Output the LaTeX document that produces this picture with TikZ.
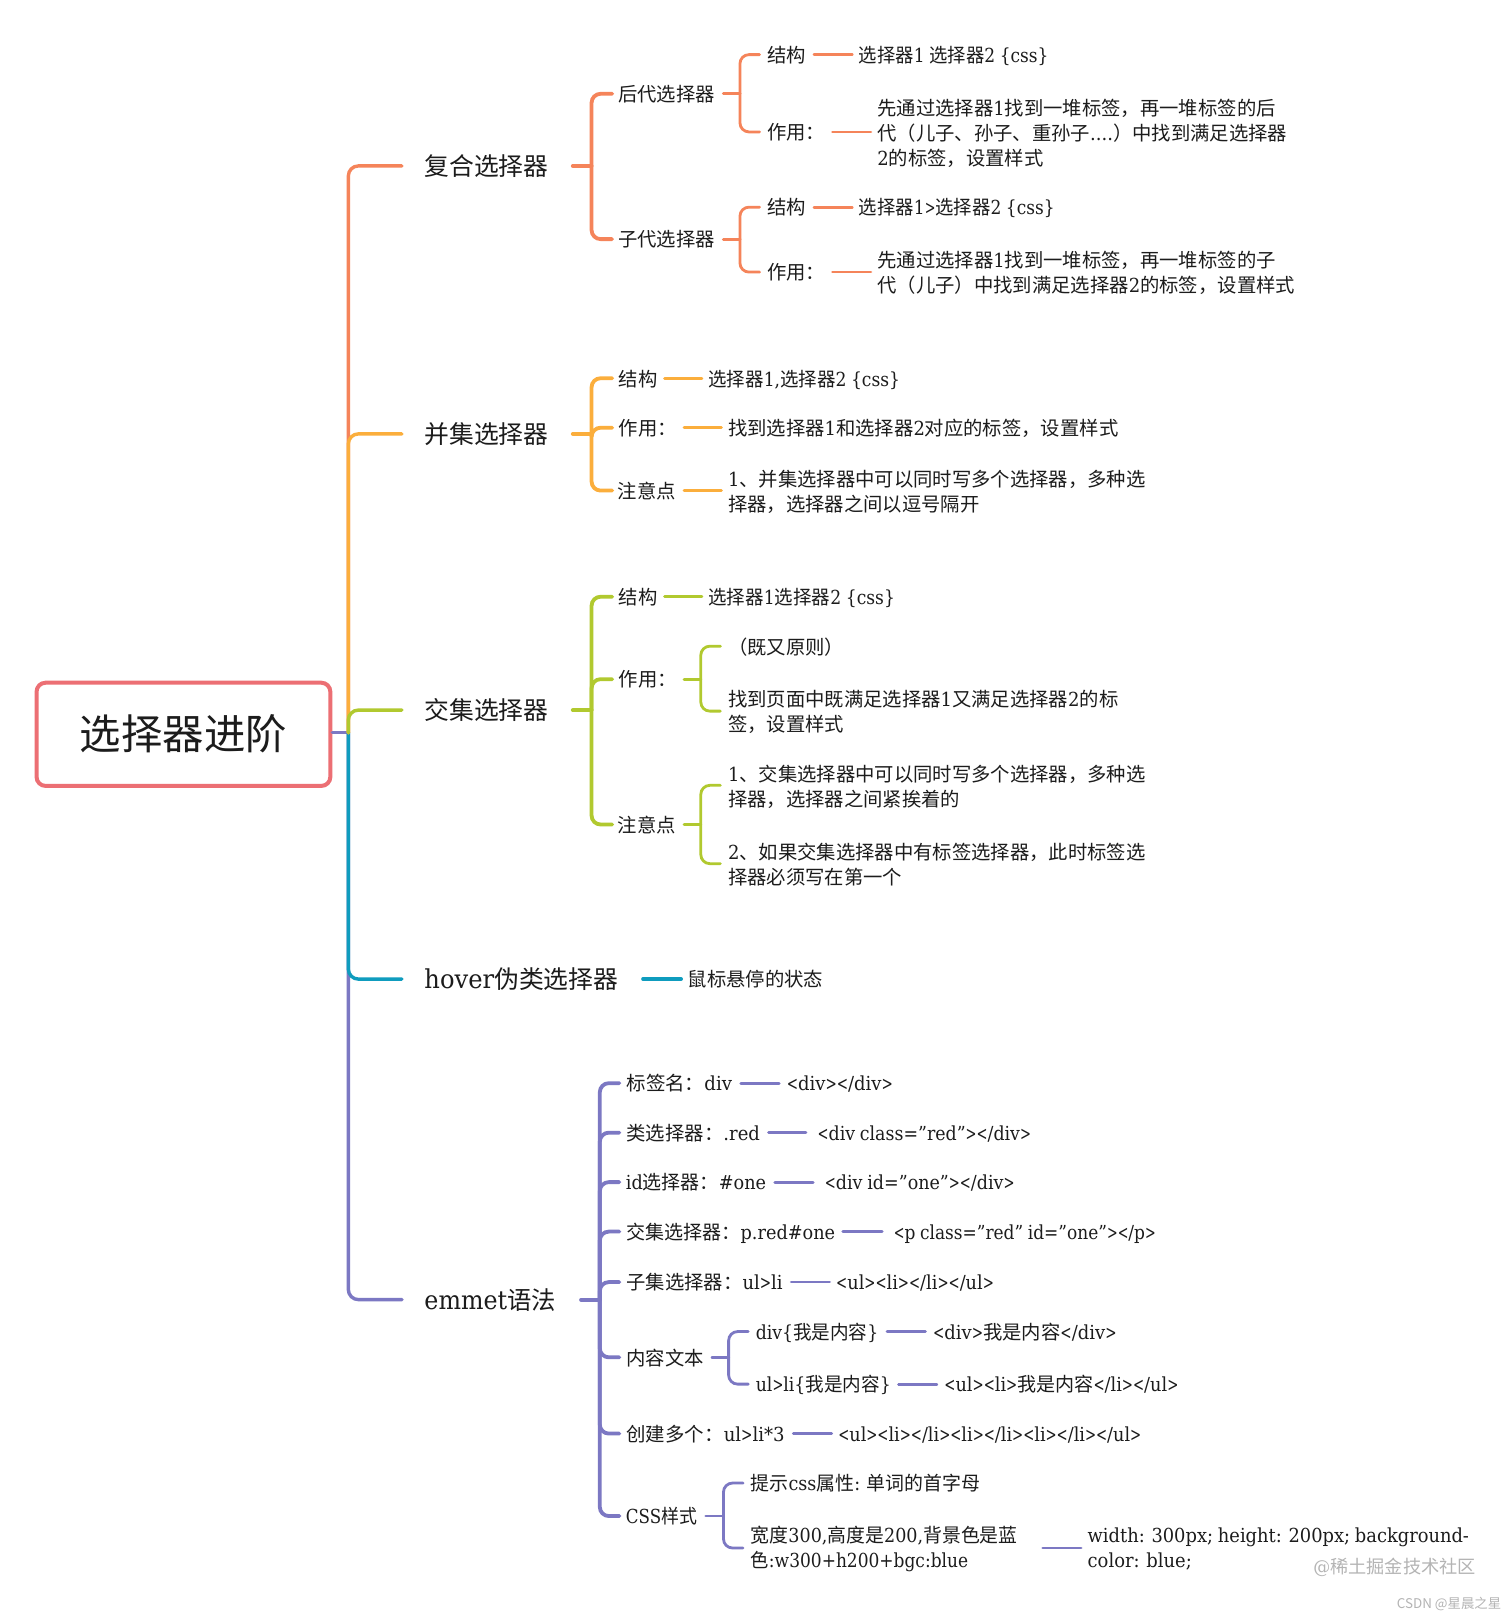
\documentclass[tikz,border=0pt]{standalone}
\usepackage{fontspec}
\setmainfont[FakeStretch=0.93,WordSpace=0.85]{DejaVu Serif}
\newfontfamily\cjk{Noto Sans CJK SC}
\newcommand\zh[1]{{\cjk #1}}
\newcommand\LTs{\scalebox{0.75}[1]{<}}
\newcommand\GTs{\scalebox{0.75}[1]{>}}
\newcommand\fit[2]{\pgfmathsetlengthmacro\fw{#1*0.51534pt}\resizebox{\fw}{\height}{#2}}
\definecolor{cO}{HTML}{F5845A}
\definecolor{cY}{HTML}{FBAE3C}
\definecolor{cG}{HTML}{B1C92F}
\definecolor{cT}{HTML}{0F9CBE}
\definecolor{cP}{HTML}{7C78C3}
\definecolor{cR}{HTML}{EC6F74}
\definecolor{wm}{HTML}{B4B4B4}
\definecolor{ink}{HTML}{1C1C1C}
\tikzset{
  bodytxt/.style={inner sep=0pt,anchor=west,text height=8.6pt,text depth=0.8pt,font=\fontsize{9.67}{12.5}\selectfont,text=ink},
  bigtxt/.style={inner sep=0pt,anchor=west,text height=10.4pt,text depth=1pt,font=\fontsize{12.4}{15}\selectfont,text=ink},
  multitxt/.style={inner sep=0pt,anchor=west,font=\fontsize{9.67}{12.5}\selectfont,text=ink},
  lvA/.style={line width=1.7pt,line cap=round,rounded corners=5pt},
  lvB/.style={line width=1.9pt,line cap=round,rounded corners=4.5pt},
  lvC/.style={line width=1.4pt,line cap=round,rounded corners=4.5pt},
  gap/.style={shorten >=#1*0.51534pt},
  rootbox/.style={draw=cR,line width=2pt,rounded corners=4.5pt,minimum width=146.9pt,minimum height=51.6pt,inner sep=0pt,font=\fontsize{20.7}{24}\selectfont,text=ink},
  wmark/.style={inner sep=0pt,anchor=west,text=wm},
}
% single line node: [style]{name}{x left}{y}{x right}{content}
\newcommand\nd[6][bodytxt]{%
  \pgfmathsetlengthmacro\wid{(#5-#3)*0.51534pt}%
  \node[#1] (#2) at (#3,#4) {\makebox[\wid][l]{#6}};}
% several lines
\newcommand\ndm[5]{%
  \pgfmathsetlengthmacro\wid{(#4-#2)*0.51534pt}%
  \node[multitxt] (#1) at (#2,#3) {\parbox{\wid}{\vspace*{1pt}\raggedright #5}};}
\newcommand\biglatin[1]{{\fontsize{13}{15}\selectfont #1}}
\begin{document}
\begin{tikzpicture}[x=0.51534pt,y=-0.51534pt]
\useasboundingbox (0,0) rectangle (1467,1568);
\fill[white] (0,0) rectangle (1467,1568);
%
\node[rootbox] (root) at (178,712.5) {\raisebox{2.8pt}{\zh{选择器进阶}}};
\coordinate (rt) at (338,711);
%
\nd[bigtxt]{fh}{411.5}{161}{555}{\zh{复合选择器}}
\nd[bigtxt]{bj}{411.5}{421}{555}{\zh{并集选择器}}
\nd[bigtxt]{jj}{411.5}{689}{555}{\zh{交集选择器}}
\nd[bigtxt]{hv}{411.5}{950}{623}{\fit{188}{\biglatin{hover}\zh{伪类选择器}}}
\nd[bigtxt]{em}{411.5}{1261}{563}{\fit{127.5}{\biglatin{emmet}\zh{语法}}}
%
\draw[lvA,cP] (root.east |- rt) -- (rt);
\draw[lvA,cP,gap=21.5] (rt) |- (em.west);
\draw[lvA,cT,gap=21.5] (rt) |- (hv.west);
\draw[lvA,cO,gap=21.5] (rt) |- (fh.west);
\draw[lvA,cY,gap=21.5] (rt) |- (bj.west);
\draw[lvA,cG,gap=21.5] (rt) |- (jj.west);
%
% 复合选择器
\coordinate (fht) at (574,161);
\nd{hd}{599.5}{91}{701}{\zh{后代选择器}}
\nd{zd}{599.5}{232}{701}{\zh{子代选择器}}
\draw[lvB,cO] (fh.east) -- (fht);
\draw[lvB,cO,gap=5.5] (fht) |- (hd.west);
\draw[lvB,cO,gap=5.5] (fht) |- (zd.west);
\coordinate (hdt) at (718,91);
\nd{hda}{744}{53}{789}{\zh{结构}}
\nd{hdb}{744}{128}{807}{\zh{作用：}}
\nd{hdc}{833}{53}{1018}{\fit{184}{\zh{选择器}1 \zh{选择器}2 \{css\}}}
\ndm{hdd}{851}{128}{1260}{\mbox{\zh{先通过选择器}1\zh{找到一堆标签，再一堆标签的后}}\\\mbox{\zh{代（儿子、孙子、重孙子}....\zh{）中找到满足选择器}}\\\mbox{2\zh{的标签，设置样式}}}
\draw[lvC,cO] (hd.east) -- (hdt);
\draw[lvC,cO,gap=7] (hdt) |- (hda.west);
\draw[lvC,cO,gap=7] (hdt) |- (hdb.west);
\draw[lvC,cO,gap=6] (hda.east) -- (hdc.west);
\draw[lvC,cO,gap=6] (hdb.east) -- (hdd.west);
\coordinate (zdt) at (718,232);
\nd{zda}{744}{201}{789}{\zh{结构}}
\nd{zdb}{744}{264}{807}{\zh{作用：}}
\nd{zdc}{833}{201}{1023}{\fit{190}{\zh{选择器}1\GTs\zh{选择器}2 \{css\}}}
\ndm{zdd}{851}{264}{1260}{\mbox{\zh{先通过选择器}1\zh{找到一堆标签，再一堆标签的子}}\\\mbox{\zh{代（儿子）中找到满足选择器}2\zh{的标签，设置样式}}}
\draw[lvC,cO] (zd.east) -- (zdt);
\draw[lvC,cO,gap=7] (zdt) |- (zda.west);
\draw[lvC,cO,gap=7] (zdt) |- (zdb.west);
\draw[lvC,cO,gap=6] (zda.east) -- (zdc.west);
\draw[lvC,cO,gap=6] (zdb.east) -- (zdd.west);
%
% 并集选择器
\coordinate (bjt) at (574,421);
\nd{bja}{600}{367}{644}{\zh{结构}}
\nd{bjb}{600}{415}{663}{\zh{作用：}}
\nd{bjc}{599}{476}{663}{\zh{注意点}}
\nd{bjd}{687}{367}{873}{\fit{186}{\zh{选择器}1,\zh{选择器}2 \{css\}}}
\nd{bje}{706}{415}{1084}{\zh{找到选择器}1\zh{和选择器}2\zh{对应的标签，设置样式}}
\ndm{bjf}{706}{476}{1115}{\mbox{1\zh{、并集选择器中可以同时写多个选择器，多种选}}\\\mbox{\zh{择器，选择器之间以逗号隔开}}}
\draw[lvB,cY] (bj.east) -- (bjt);
\draw[lvB,cY,gap=6] (bjt) |- (bja.west);
\draw[lvB,cY,gap=6] (bjt) |- (bjb.west);
\draw[lvB,cY,gap=5] (bjt) |- (bjc.west);
\draw[lvC,cY,gap=6] (bja.east) -- (bjd.west);
\draw[lvC,cY,gap=6] (bjb.east) -- (bje.west);
\draw[lvC,cY,gap=6] (bjc.east) -- (bjf.west);
%
% 交集选择器
\coordinate (jjt) at (574,689);
\nd{jja}{600}{579}{644}{\zh{结构}}
\nd{jjb}{600}{659}{663}{\zh{作用：}}
\nd{jjc}{599}{800}{663}{\zh{注意点}}
\nd{jjd}{687}{579}{868}{\fit{181}{\zh{选择器}1\zh{选择器}2 \{css\}}}
\draw[lvB,cG] (jj.east) -- (jjt);
\draw[lvB,cG,gap=6] (jjt) |- (jja.west);
\draw[lvB,cG,gap=6] (jjt) |- (jjb.west);
\draw[lvB,cG,gap=5] (jjt) |- (jjc.west);
\draw[lvC,cG,gap=6] (jja.east) -- (jjd.west);
\coordinate (jjbt) at (680,659);
\nd{jje}{706}{627}{815}{\zh{（既又原则）}}
\ndm{jjf}{706}{690}{1115}{\mbox{\zh{找到页面中既满足选择器}1\zh{又满足选择器}2\zh{的标}}\\\mbox{\zh{签，设置样式}}}
\draw[lvC,cG] (jjb.east) -- (jjbt);
\draw[lvC,cG,gap=7] (jjbt) |- (jje.west);
\draw[lvC,cG,gap=7] (jjbt) |- (jjf.west);
\coordinate (jjct) at (680,800);
\ndm{jjg}{706}{762}{1115}{\mbox{1\zh{、交集选择器中可以同时写多个选择器，多种选}}\\\mbox{\zh{择器，选择器之间紧挨着的}}}
\ndm{jjh}{706}{838}{1115}{\mbox{2\zh{、如果交集选择器中有标签选择器，此时标签选}}\\\mbox{\zh{择器必须写在第一个}}}
\draw[lvC,cG] (jjc.east) -- (jjct);
\draw[lvC,cG,gap=7] (jjct) |- (jjg.west);
\draw[lvC,cG,gap=7] (jjct) |- (jjh.west);
%
% hover
\nd{hva}{667}{950}{799}{\zh{鼠标悬停的状态}}
\draw[lvA,cT,gap=6] (hv.east) -- (hva.west);
%
% emmet
\coordinate (emt) at (582,1261);
\nd{ea}{607.5}{1051}{718}{\fit{102.5}{\zh{标签名：}div}}
\nd{eb}{607.5}{1099}{745}{\fit{129.5}{\zh{类选择器：}.red}}
\nd{ec}{607}{1147}{751}{\fit{136}{id\zh{选择器：}\#one}}
\nd{ed}{607.5}{1195}{817}{\fit{202.5}{\zh{交集选择器：}p.red\#one}}
\nd{ee}{607.5}{1244}{767}{\fit{151.5}{\zh{子集选择器：}ul\GTs li}}
\nd{ef}{607.5}{1317}{690}{\zh{内容文本}}
\nd{eg}{607.5}{1391}{769}{\fit{153.5}{\zh{创建多个：}ul\GTs li*3}}
\nd{eh}{607}{1471}{684}{\fit{69}{CSS\zh{样式}}}
\draw[lvB,cP] (em.east) -- (emt);
\foreach \ch in {ea,eb,ed,ee,ef,eg}
  \draw[lvB,cP,gap=6.5] (emt) |- (\ch.west);
\foreach \ch in {ec,eh}
  \draw[lvB,cP,gap=6] (emt) |- (\ch.west);
\nd{eaa}{763}{1051}{867}{\fit{103}{\LTs div\GTs\LTs /div\GTs}}
\nd{eba}{793}{1099}{1001}{\fit{207}{\LTs div class="red"\GTs\LTs /div\GTs}}
\nd{eca}{800}{1147}{985}{\fit{184}{\LTs div id="one"\GTs\LTs /div\GTs}}
\nd{eda}{867}{1195}{1122}{\fit{254}{\LTs p class="red" id="one"\GTs\LTs /p\GTs}}
\nd{eea}{811}{1244}{965}{\fit{153}{\LTs ul\GTs\LTs li\GTs\LTs /li\GTs\LTs /ul\GTs}}
\nd{ega}{813}{1391}{1108}{\fit{294}{\LTs ul\GTs\LTs li\GTs\LTs /li\GTs\LTs li\GTs\LTs /li\GTs\LTs li\GTs\LTs /li\GTs\LTs /ul\GTs}}
\draw[lvC,cP,gap=7] (ea.east) -- (eaa.west);
\draw[lvC,cP,gap=11] (eb.east) -- (eba.west);
\draw[lvC,cP,gap=11] (ec.east) -- (eca.west);
\draw[lvC,cP,gap=11] (ed.east) -- (eda.west);
\draw[lvC,cP,gap=6] (ee.east) -- (eea.west);
\draw[lvC,cP,gap=6] (eg.east) -- (ega.west);
\coordinate (eft) at (707,1317);
\nd{efa}{733}{1292}{860}{\fit{119}{div\{\zh{我是内容}\}}}
\nd{efb}{733}{1343}{871}{\fit{131}{ul\GTs li\{\zh{我是内容}\}}}
\nd{efc}{905}{1292}{1084}{\fit{178}{\LTs div\GTs\zh{我是内容}\LTs /div\GTs}}
\nd{efd}{916}{1343}{1144}{\fit{227}{\LTs ul\GTs\LTs li\GTs\zh{我是内容}\LTs /li\GTs\LTs /ul\GTs}}
\draw[lvC,cP] (ef.east) -- (eft);
\draw[lvC,cP,gap=7] (eft) |- (efa.west);
\draw[lvC,cP,gap=7] (eft) |- (efb.west);
\draw[lvC,cP,gap=7] (efa.east) -- (efc.west);
\draw[lvC,cP,gap=7] (efb.east) -- (efd.west);
\coordinate (eht) at (702,1471);
\nd{eha}{728}{1439}{952}{\fit{223}{\zh{提示}css\zh{属性}: \zh{单词的首字母}}}
\ndm{ehb}{728}{1502}{1011}{\mbox{\fit{259}{\zh{宽度}300,\zh{高度是}200,\zh{背景色是蓝}}}\\\mbox{\fit{211}{\zh{色}:w300+h200+bgc:blue}}}
\ndm{ehc}{1055}{1502}{1440}{\mbox{\fit{370}{width: 300px; height: 200px; background-}}\\\mbox{\fit{101}{color: blue;}}}
\draw[lvC,cP] (eh.east) -- (eht);
\draw[lvC,cP,gap=7] (eht) |- (eha.west);
\draw[lvC,cP,gap=7] (eht) |- (ehb.west);
\draw[lvC,cP,gap=6] (ehb.east) -- (ehc.west);
%
% watermarks
\node[wmark,font=\fontsize{9.1}{11}\selectfont] (wa) at (1274,1521) {@\zh{稀土掘金技术社区}};
\node[wmark,font=\fontsize{6.7}{8}\selectfont] (wb) at (1355,1556) {\cjk CSDN @星晨之星};
\end{tikzpicture}
\end{document}
